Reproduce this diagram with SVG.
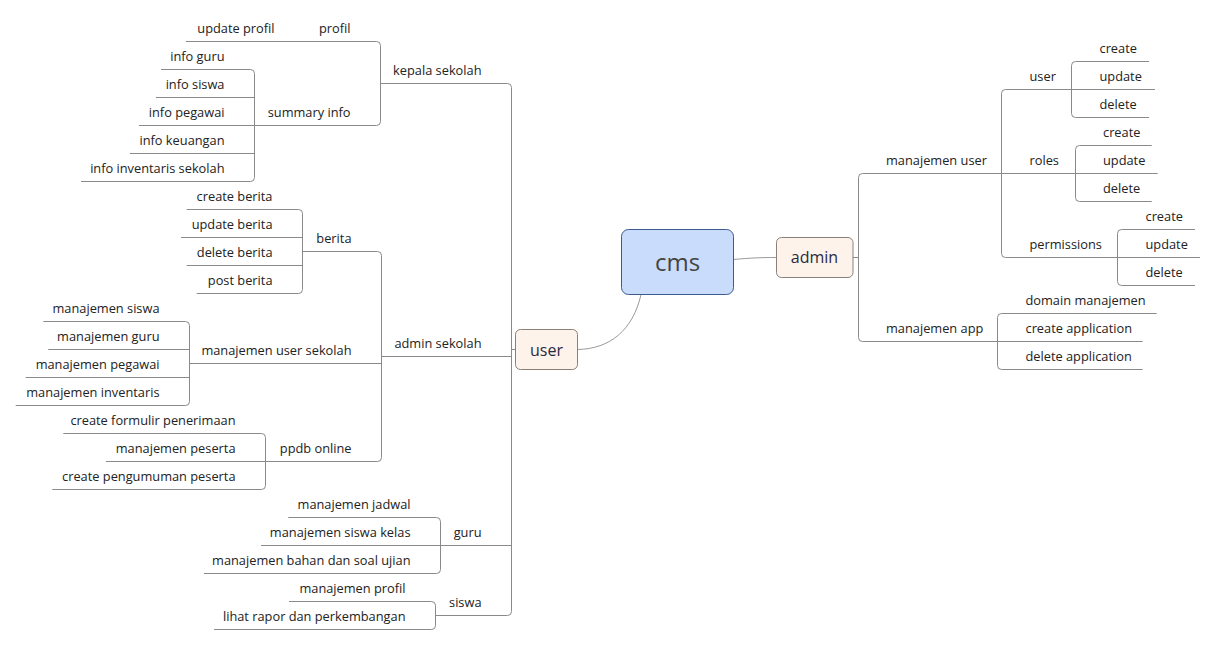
<svg xmlns="http://www.w3.org/2000/svg" width="1217" height="645" viewBox="0 0 1217 645">
<style>
.ln{fill:none;stroke:#8a8a8a;stroke-width:1}
.cv{fill:none;stroke:#9a9a9a;stroke-width:1}
.t{font-family:"Open Sans","Liberation Sans",sans-serif;font-size:12.8px;fill:#222}
.e{text-anchor:end}
.n{font-family:"Open Sans","Liberation Sans",sans-serif;text-anchor:middle}
</style>
<rect width="1217" height="645" fill="#ffffff"/>
<g id="connectors">
<path class="cv" d="M577.5,349.5 C610,349 633,330 641,294.5"/>
<path class="cv" d="M733.5,259.5 C750,258 760,257.5 776.5,257.5"/>
<path class="ln" d="M853,257.5 H858.5"/>
<path class="ln" d="M1001.5,173.5 H862.5 Q858.5,173.5 858.5,177.5 V337.5 Q858.5,341.5 862.5,341.5 H997.5"/>
<path class="ln" d="M1071.5,89.5 H1005.5 Q1001.5,89.5 1001.5,93.5 V253.5 Q1001.5,257.5 1005.5,257.5 H1117.5 M1001.5,173.5 H1075.5"/>
<path class="ln" d="M1149,61.5 H1075.5 Q1071.5,61.5 1071.5,65.5 V113.5 Q1071.5,117.5 1075.5,117.5 H1149 M1071.5,89.5 H1155"/>
<path class="ln" d="M1151.7,145.5 H1079.5 Q1075.5,145.5 1075.5,149.5 V197.5 Q1075.5,201.5 1079.5,201.5 H1151.7 M1075.5,173.5 H1157.7"/>
<path class="ln" d="M1195,229.5 H1121.5 Q1117.5,229.5 1117.5,233.5 V281.5 Q1117.5,285.5 1121.5,285.5 H1195 M1117.5,257.5 H1200"/>
<path class="ln" d="M1156.7,313.5 H1001.5 Q997.5,313.5 997.5,317.5 V365.5 Q997.5,369.5 1001.5,369.5 H1142.7 M997.5,341.5 H1142.7"/>
<path class="ln" d="M380.5,83.5 H507.5 Q511.5,83.5 511.5,87.5 V611.5 Q511.5,615.5 507.5,615.5 H435.5 M381.5,356.5 H511.5 M440.5,545.5 H511.5 M511.5,349.5 H515.5"/>
<path class="ln" d="M186,41.5 H376.5 Q380.5,41.5 380.5,45.5 V121.5 Q380.5,125.5 376.5,125.5 H254.5"/>
<path class="ln" d="M161,69.5 H250.5 Q254.5,69.5 254.5,73.5 V177.5 Q254.5,181.5 250.5,181.5 H81 M156,97.5 H254.5 M139,125.5 H254.5 M130,153.5 H254.5"/>
<path class="ln" d="M302.5,251.5 H377.5 Q381.5,251.5 381.5,255.5 V457.5 Q381.5,461.5 377.5,461.5 H265.5 M189.5,363.5 H381.5"/>
<path class="ln" d="M186.7,209.5 H298.5 Q302.5,209.5 302.5,213.5 V289.5 Q302.5,293.5 298.5,293.5 H196.7 M181,237.5 H302.5 M186.7,265.5 H302.5"/>
<path class="ln" d="M43.3,321.5 H185.5 Q189.5,321.5 189.5,325.5 V401.5 Q189.5,405.5 185.5,405.5 H15.7 M48.3,349.5 H189.5 M25.7,377.5 H189.5"/>
<path class="ln" d="M63.3,433.5 H261.5 Q265.5,433.5 265.5,437.5 V485.5 Q265.5,489.5 261.5,489.5 H52.3 M106,461.5 H265.5"/>
<path class="ln" d="M288.3,517.5 H436.5 Q440.5,517.5 440.5,521.5 V569.5 Q440.5,573.5 436.5,573.5 H204 M261,545.5 H440.5"/>
<path class="ln" d="M289,601.5 H431.5 Q435.5,601.5 435.5,605.5 V625.5 Q435.5,629.5 431.5,629.5 H214"/>
</g>
<g id="cms"><rect x="621.5" y="229.5" width="112" height="65" rx="7" fill="#c9dcfb" stroke="#3d5a8c"/><text class="n" x="677.5" y="270.5" font-size="24" fill="#444">cms</text></g>
<g id="admin"><rect x="776.5" y="237.5" width="76.5" height="40" rx="5" fill="#fdf3ea" stroke="#8a8078"/><text class="n" x="814.5" y="263" font-size="16" fill="#2a2a40">admin</text></g>
<g id="user"><rect x="515.5" y="329.5" width="62" height="40" rx="5" fill="#fdf3ea" stroke="#8a8078"/><text class="n" x="546.5" y="355.5" font-size="16" fill="#2a2a40">user</text></g>
<g id="manajemen-user"><text class="t" x="886" y="165">manajemen user</text></g>
<g id="manajemen-app"><text class="t" x="886" y="333">manajemen app</text></g>
<g id="a-user"><text class="t" x="1029.5" y="81">user</text></g>
<g id="a-roles"><text class="t" x="1029.5" y="165">roles</text></g>
<g id="a-permissions"><text class="t" x="1029.5" y="249">permissions</text></g>
<g id="u-create"><text class="t" x="1099.5" y="53">create</text></g>
<g id="u-update"><text class="t" x="1099.5" y="81">update</text></g>
<g id="u-delete"><text class="t" x="1099.5" y="109">delete</text></g>
<g id="r-create"><text class="t" x="1103" y="137">create</text></g>
<g id="r-update"><text class="t" x="1103" y="165">update</text></g>
<g id="r-delete"><text class="t" x="1103" y="193">delete</text></g>
<g id="p-create"><text class="t" x="1145.5" y="221">create</text></g>
<g id="p-update"><text class="t" x="1145.5" y="249">update</text></g>
<g id="p-delete"><text class="t" x="1145.5" y="277">delete</text></g>
<g id="domain-manajemen"><text class="t" x="1025.5" y="305">domain manajemen</text></g>
<g id="create-application"><text class="t" x="1025.5" y="333">create application</text></g>
<g id="delete-application"><text class="t" x="1025.5" y="361">delete application</text></g>
<g id="kepala-sekolah"><text class="t e" x="481.5" y="75">kepala sekolah</text></g>
<g id="admin-sekolah"><text class="t e" x="481.5" y="348">admin sekolah</text></g>
<g id="guru"><text class="t e" x="481.5" y="537">guru</text></g>
<g id="siswa"><text class="t e" x="481.5" y="607">siswa</text></g>
<g id="profil"><text class="t e" x="350.5" y="33">profil</text></g>
<g id="summary-info"><text class="t e" x="350.5" y="117">summary info</text></g>
<g id="update-profil"><text class="t e" x="274.5" y="33">update profil</text></g>
<g id="info-guru"><text class="t e" x="224.5" y="61">info guru</text></g>
<g id="info-siswa"><text class="t e" x="224.5" y="89">info siswa</text></g>
<g id="info-pegawai"><text class="t e" x="224.5" y="117">info pegawai</text></g>
<g id="info-keuangan"><text class="t e" x="224.5" y="145">info keuangan</text></g>
<g id="info-inventaris"><text class="t e" x="224.5" y="173">info inventaris sekolah</text></g>
<g id="berita"><text class="t e" x="351.5" y="243">berita</text></g>
<g id="manajemen-user-sekolah"><text class="t e" x="351.5" y="355">manajemen user sekolah</text></g>
<g id="ppdb-online"><text class="t e" x="351.5" y="453">ppdb online</text></g>
<g id="create-berita"><text class="t e" x="272.5" y="201">create berita</text></g>
<g id="update-berita"><text class="t e" x="272.5" y="229">update berita</text></g>
<g id="delete-berita"><text class="t e" x="272.5" y="257">delete berita</text></g>
<g id="post-berita"><text class="t e" x="272.5" y="285">post berita</text></g>
<g id="manajemen-siswa"><text class="t e" x="159.5" y="313">manajemen siswa</text></g>
<g id="manajemen-guru"><text class="t e" x="159.5" y="341">manajemen guru</text></g>
<g id="manajemen-pegawai"><text class="t e" x="159.5" y="369">manajemen pegawai</text></g>
<g id="manajemen-inventaris"><text class="t e" x="159.5" y="397">manajemen inventaris</text></g>
<g id="create-formulir"><text class="t e" x="235.5" y="425">create formulir penerimaan</text></g>
<g id="manajemen-peserta"><text class="t e" x="235.5" y="453">manajemen peserta</text></g>
<g id="create-pengumuman"><text class="t e" x="235.5" y="481">create pengumuman peserta</text></g>
<g id="manajemen-jadwal"><text class="t e" x="410.5" y="509">manajemen jadwal</text></g>
<g id="manajemen-siswa-kelas"><text class="t e" x="410.5" y="537">manajemen siswa kelas</text></g>
<g id="manajemen-bahan"><text class="t e" x="410.5" y="565">manajemen bahan dan soal ujian</text></g>
<g id="manajemen-profil"><text class="t e" x="405.5" y="593">manajemen profil</text></g>
<g id="lihat-rapor"><text class="t e" x="405.5" y="621">lihat rapor dan perkembangan</text></g>
</svg>
